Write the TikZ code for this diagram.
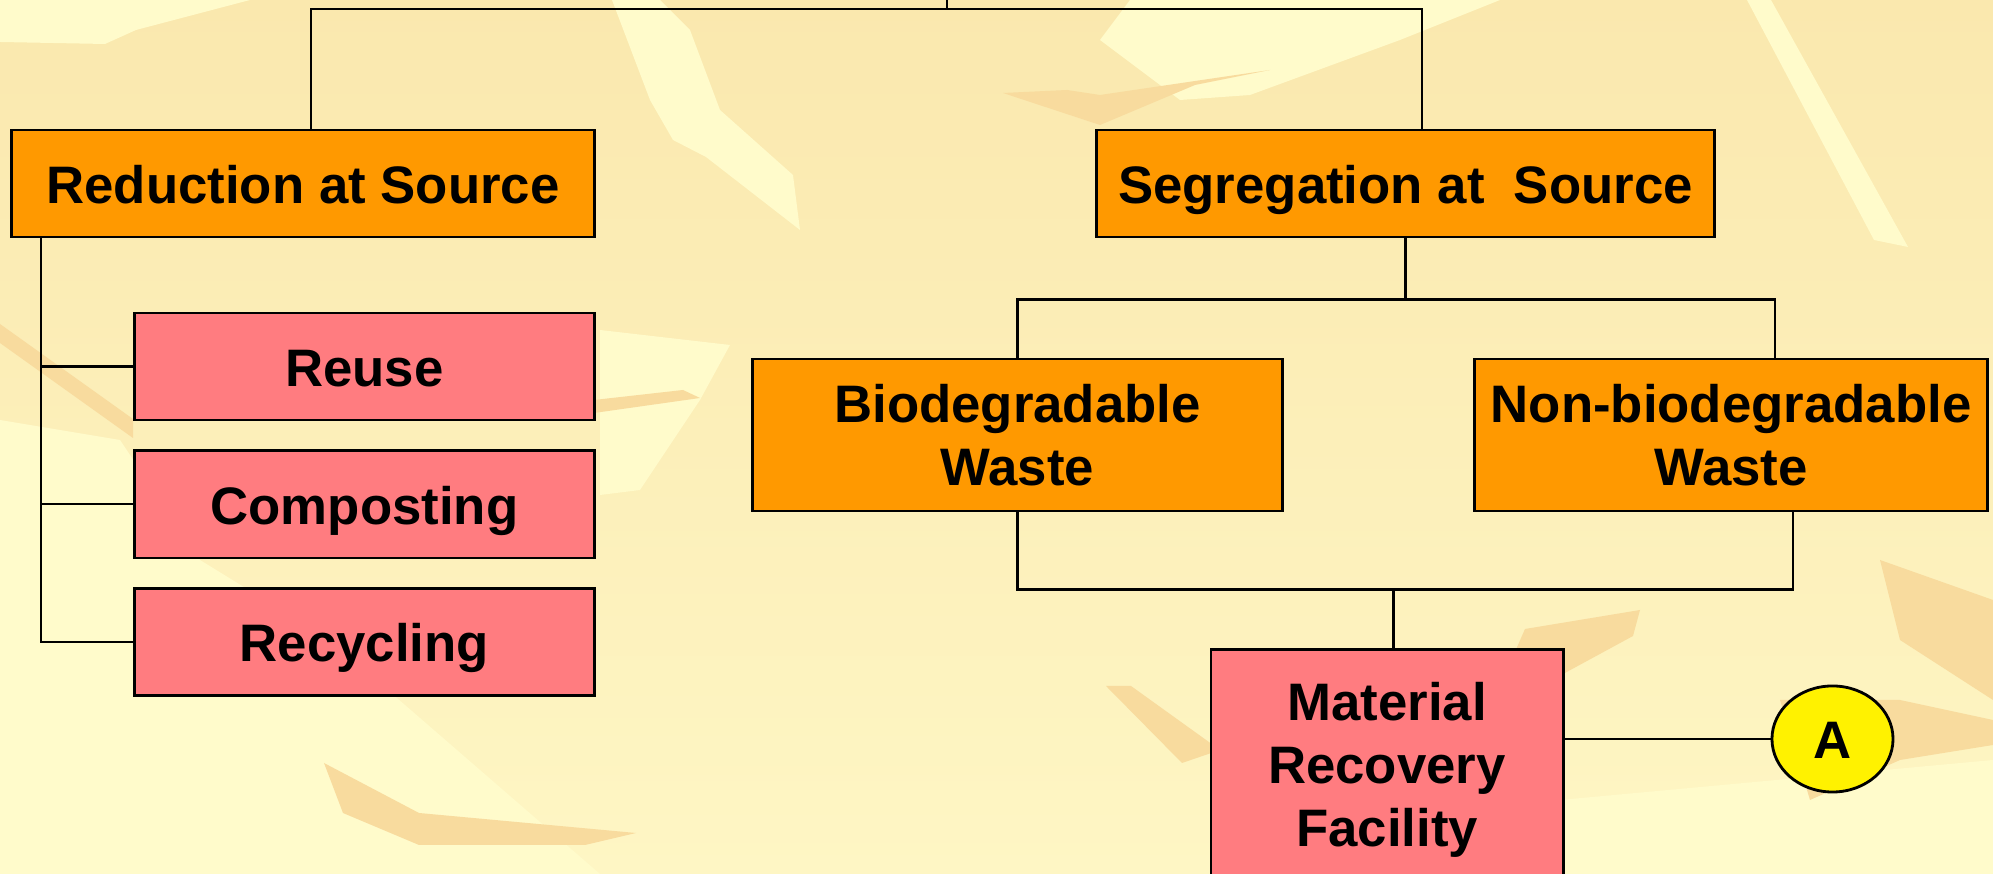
\documentclass[tikz,border=0pt]{standalone}
\usepackage{fontspec}
\setmainfont{Liberation Sans}
\usepackage{tikz}
\usetikzlibrary{positioning,shapes.geometric}

\definecolor{stageorange}{HTML}{FF9900}
\definecolor{optionpink}{HTML}{FF7C80}
\definecolor{bgtop}{HTML}{FAE8AE}
\definecolor{bgbottom}{HTML}{FEF6C4}
\definecolor{bglight}{HTML}{FFFBCB}
\definecolor{bgdark}{HTML}{F8DB9E}

\begin{document}
\begin{tikzpicture}[
    x=0.01cm, y=-0.01cm,
    stage/.style={draw, line width=0.8pt, fill=stageorange, align=center, inner sep=1pt,
                  font=\fontsize{15}{18}\selectfont\bfseries},
    option/.style={stage, fill=optionpink},
    oneline/.style={text height=11.2pt, text depth=0pt},
    marker/.style={draw, ellipse, line width=0.8pt, fill=yellow, inner sep=0pt,
                   font=\fontsize{15}{18}\selectfont\bfseries},
    link/.style={line width=0.6pt},
    node distance=0.28cm
]
\clip (0,0) rectangle (1993,874);

% background
\shade[top color=bgtop, bottom color=bgbottom] (0,0) rectangle (1993,874);
\fill[bglight] (0,0) -- (250,0) -- (136,30) -- (105,44) -- (0,42) -- cycle;
\fill[bglight] (1747,0) -- (1771,0) -- (1908,247) -- (1874,240) -- cycle;
\fill[bglight] (612,0) -- (660,0) -- (690,30) -- (720,110) -- (793,175) -- (800,230) -- (706,157) -- (673,140) -- (650,100) -- cycle;
\fill[bglight] (1130,0) -- (1500,0) -- (1400,40) -- (1250,95) -- (1180,100) -- (1100,40) -- cycle;
\fill[bglight] (0,420) -- (120,440) -- (200,560) -- (330,640) -- (600,874) -- (0,874) -- cycle;
\fill[bglight] (600,330) -- (730,345) -- (700,400) -- (640,490) -- (600,495) -- cycle;
\fill[bglight] (1560,800) -- (1993,760) -- (1993,874) -- (1560,874) -- cycle;
\fill[bgdark] (1003,93) -- (1067,90) -- (1100,95) -- (1270,70) -- (1195,85) -- (1100,125) -- cycle;
\fill[bgdark] (1525,629) -- (1640,610) -- (1633,636) -- (1563,674) -- (1500,686) -- cycle;
\fill[bgdark] (1106,686) -- (1131,686) -- (1220,750) -- (1182,763) -- cycle;
\fill[bgdark] (324,763) -- (419,813) -- (636,833) -- (585,845) -- (419,845) -- (343,813) -- cycle;
\fill[bgdark] (0,324) -- (133,419) -- (133,438) -- (0,343) -- cycle;
\fill[bgdark] (594,400) -- (683,390) -- (700,398) -- (594,413) -- cycle;
\fill[bgdark] (1880,560) -- (1993,600) -- (1993,700) -- (1900,640) -- cycle;
\fill[bgdark] (1780,700) -- (1900,700) -- (1993,720) -- (1993,745) -- (1900,760) -- (1810,800) -- cycle;

% boxes
\node[stage, oneline, minimum width=5.82cm, minimum height=1.07cm] (reduce) at (303,183.5) {Reduction at Source};
\node[stage, oneline, minimum width=6.17cm, minimum height=1.07cm] (segregate) at (1405.5,183.5) {Segregation at\ \ Source};

\node[option, oneline, minimum width=4.59cm, minimum height=1.07cm] (reuse) at (364.5,366.5) {Reuse};
\node[option, oneline, minimum width=4.59cm, minimum height=1.07cm, below=of reuse] (compost) {Composting};
\node[option, oneline, minimum width=4.59cm, minimum height=1.07cm, below=of compost] (recycle) {Recycling};

\node[stage, minimum width=5.29cm, minimum height=1.52cm] (bio) at (1017.5,435) {Biodegradable\\Waste};
\node[stage, minimum width=5.12cm, minimum height=1.52cm] (nonbio) at (1731,435) {Non-biodegradable\\Waste};

\node[option, minimum width=3.52cm, minimum height=2.4cm, anchor=north] (mrf) at (1387,648.5) {Material\\Recovery\\Facility};
\node[marker, oneline, minimum width=1.21cm, minimum height=1.06cm] (a) at (1832.5,739) {A};

% connectors
\coordinate (root) at (947,0);
\draw[link] (root) -- ++(0,-0.09cm) coordinate (rootbar);
\draw[link] ([xshift=0.08cm]reduce.north) |- (rootbar) -| ([xshift=0.165cm]segregate.north);

\draw[link] ([xshift=0.31cm]reduce.south west) |- (recycle.west);
\foreach \n in {reuse,compost}
  \draw[link] (\n.west) -- ++(-0.92cm,0);

\draw[link] (segregate.south) -- ++(0,-0.61cm) coordinate (splitbar);
\draw[link] (bio.north) |- (splitbar) -| ([xshift=0.44cm]nonbio.north);

\draw[link] (bio.south) -- ++(0,-0.77cm) -| ([xshift=0.62cm]nonbio.south);
\draw[link] ([xshift=0.065cm]mrf.north) -- ++(0,0.6cm);

\draw[link] (a) -- (a -| mrf.east);
\end{tikzpicture}
\end{document}
